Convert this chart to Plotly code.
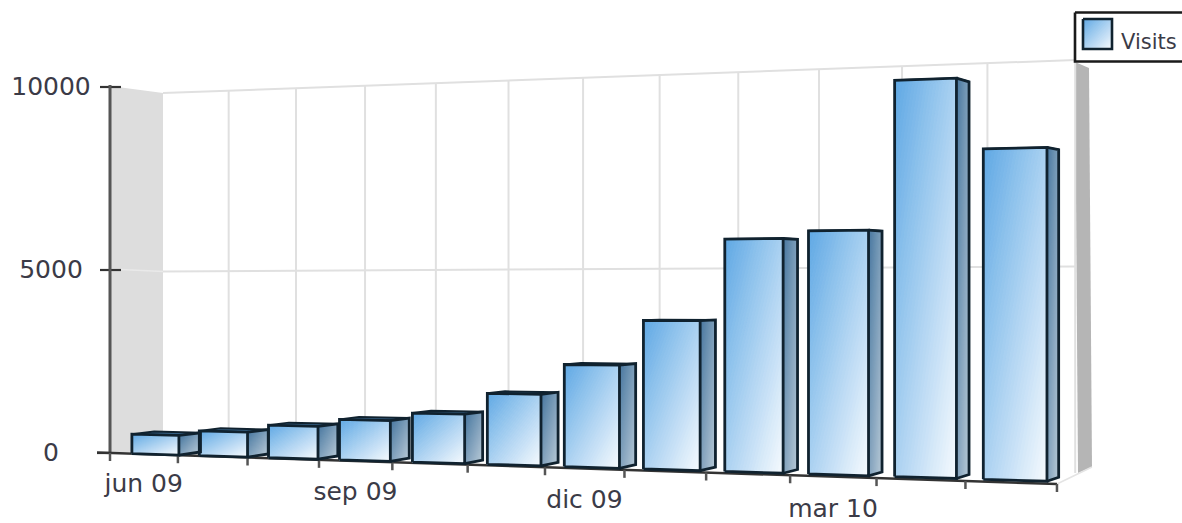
import plotly.graph_objects as go

# ---- data ----
months = ["jun 09", "jul 09", "ago 09", "sep 09", "oct 09", "nov 09",
          "dic 09", "ene 10", "feb 10", "mar 10", "abr 10", "may 10"]
visits = [530, 665, 865, 1060, 1265, 1810, 2570, 3690, 5690, 5870, 9430, 7750]
labelled_months = ["jun 09", "sep 09", "dic 09", "mar 10"]
y_ticks = [0, 5000, 10000]
series_name = "Visits"

W, H = 1182, 523
VMAX = 10000.0
N = 40
TEXT = "#3b3b47"
FONT = "DejaVu Sans"


# ---- perspective scales ----
def persp(t):
    return 1 - 0.01253 * t

def xf(t):
    return (110 + 65.67 * t) / persp(t)

def yf(x):
    return 453 + (x - 110) * 31 / 947

def front(t, v):
    x = xf(t) + 2 - t
    return x, yf(x) - 0.2 * t - v / VMAX * 366 / persp(t)

def depth(t, v):
    return 22.5 - 0.9 * t, -(3 + t / 12) + 8 * v / VMAX

def rear(t, v):
    x, y = front(t, v)
    dx, dy = depth(t, v)
    return x + dx, y + dy

def xb(t):
    return (163 + 62.9 * t) / (1 - 0.0122 * t)

def wall_y(x, v):
    top = 93 - 33 * (x - 163) / 912
    bot = 450 + 23 * (x - 163) / 912
    return bot - v / VMAX * (bot - top)


# ---- helpers ----
def hex2rgb(h):
    return [int(h[i:i + 2], 16) for i in (1, 3, 5)]

def mix(a, b, s):
    a, b = hex2rgb(a), hex2rgb(b)
    return "rgb(%d,%d,%d)" % tuple(round(p + (q - p) * s) for p, q in zip(a, b))

def band(a, b):
    """Diagonal slice a<=(u+v)/2<=b of the unit square."""
    def ends(c):
        if c <= 1:
            return (c, 0.0), (0.0, c)
        return (1.0, c - 1), (c - 1, 1.0)
    ca, cb = 2 * a, 2 * b
    a1, a2 = ends(ca)
    b1, b2 = ends(cb)
    pts = [a1]
    if ca < 1 < cb:
        pts.append((1.0, 0.0))
    pts += [b1, b2]
    if ca < 1 < cb:
        pts.append((0.0, 1.0))
    pts.append(a2)
    return pts

def add_path(xs, ys, pts):
    xs.extend(p[0] for p in pts)
    ys.extend(p[1] for p in pts)
    xs.append(None)
    ys.append(None)

def gradient_traces(mappers, c0, c1):
    out = []
    for k in range(N):
        xs, ys = [], []
        b = band(k / N, (k + 1) / N)
        for m in mappers:
            add_path(xs, ys, [m(u, v) for u, v in b] + [m(*b[0])])
        col = mix(c0, c1, (k + 0.5) / N)
        out.append(go.Scatter(x=xs, y=ys, mode="lines", fill="toself", fillcolor=col,
                              line=dict(color=col, width=1), hoverinfo="skip", showlegend=False))
    return out

def poly(pts, fill=None, line=None, width=0):
    xs = [p[0] for p in pts] + [pts[0][0]]
    ys = [p[1] for p in pts] + [pts[0][1]]
    return go.Scatter(x=xs, y=ys, mode="lines", fill="toself" if fill else "none",
                      fillcolor=fill, line=dict(color=line or "rgba(0,0,0,0)", width=width),
                      hoverinfo="skip", showlegend=False)

def seg(xs, ys, color, width):
    return go.Scatter(x=xs, y=ys, mode="lines", line=dict(color=color, width=width),
                      hoverinfo="skip", showlegend=False)


fig = go.Figure()
n = len(visits)

# ---- walls ----
GL = "#e0e0e0"
fig.add_trace(poly([(110, wall_y(163, VMAX) - 7), (163, wall_y(163, VMAX)),
                    (163, wall_y(163, 0)), (110, yf(110))], fill="#dddddd"))
fig.add_trace(poly([(1075, 62), (1089, 68), (1092, 467), (1078, 473)], fill="#b5b5b5"))
fig.add_trace(seg([xf(n), 1092], [yf(xf(n)), 467], "#e4e4e4", 1.5))

# back wall grid
for i in range(1, n + 1):
    x = xb(i)
    fig.add_trace(seg([x, x], [wall_y(x, VMAX), wall_y(x, 0)], GL, 2))
x0, x1 = xb(0), xb(n)
for v in y_ticks[1:]:
    fig.add_trace(seg([x0, x1], [wall_y(x0, v), wall_y(x1, v)], GL, 2))
fig.add_trace(seg([110, x0], [yf(110) - 184, wall_y(x0, 5000)], "#e9e9e9", 1.5))

# ---- axes ----
AX = "#333333"
for v in y_ticks:
    y = yf(110) - v / VMAX * 366
    fig.add_trace(seg([100 if v else 97, 121 if v else 110], [y, y], AX, 2.2))
fig.add_trace(seg([110, 110], [yf(110) - 368, yf(110)], "#555555", 3))
fig.add_trace(seg([97, xf(n)], [yf(97), yf(xf(n))], AX, 2.5))
for i in range(n + 1):
    x = xf(i)
    fig.add_trace(seg([x, x], [yf(x), yf(x) + 8], "#555555", 2.5))

# ---- bars ----
t_l = [i + 0.3 for i in range(n)]
t_r = [i + 1.0 for i in range(n)]
OUT = "#10222f"

# top faces
for i, val in enumerate(visits):
    fig.add_trace(poly([front(t_l[i], val), rear(t_l[i], val), rear(t_r[i], val), front(t_r[i], val)],
                       fill="#3f6f98", line=OUT, width=2))

def side_map(i, val):
    def m(u, v):
        x, y = front(t_r[i], val * (1 - v))
        dx, dy = depth(t_r[i], val * (1 - v))
        return x + u * dx, y + u * dy
    return m

def front_map(i, val):
    def m(u, v):
        return front(t_l[i] + u * (t_r[i] - t_l[i]), val * (1 - v))
    return m

for tr in gradient_traces([side_map(i, v) for i, v in enumerate(visits)], "#46769f", "#b6c8d6"):
    fig.add_trace(tr)
for tr in gradient_traces([front_map(i, v) for i, v in enumerate(visits)], "#5ea8e4", "#f6fafe"):
    fig.add_trace(tr)

ox, oy = [], []
for i, val in enumerate(visits):
    add_path(ox, oy, [front(t_l[i], 0), front(t_l[i], val), front(t_r[i], val), front(t_r[i], 0), front(t_l[i], 0)])
    add_path(ox, oy, [front(t_r[i], val), rear(t_r[i], val), rear(t_r[i], 0), front(t_r[i], 0)])
fig.add_trace(go.Scatter(x=ox, y=oy, mode="lines", line=dict(color=OUT, width=2.8),
                         hoverinfo="skip", showlegend=False))

# ---- tick labels ----
lab_x, lab_y, lab_t = [], [], []
for i, m in enumerate(months):
    if m in labelled_months:
        x = xf(i + 0.5)
        lab_x.append(x)
        lab_y.append(yf(x) + 32 + (x - 110) * 0.003)
        lab_t.append(m)
fig.add_trace(go.Scatter(x=lab_x, y=lab_y, text=lab_t, mode="text", textposition="middle center",
                         cliponaxis=False,
                         textfont=dict(family=FONT, size=25, color=TEXT), hoverinfo="skip", showlegend=False))
fig.add_trace(go.Scatter(x=[51] * len(y_ticks), y=[yf(110) - v / VMAX * 366 + 2 for v in y_ticks],
                         text=[str(v) for v in y_ticks], mode="text", textposition="middle center",
                         textfont=dict(family=FONT, size=25, color=TEXT), hoverinfo="skip", showlegend=False))

# ---- legend ----
fig.add_trace(poly([(1075, 12.5), (1190, 12.5), (1190, 61.5), (1075, 61.5)],
                   fill="white", line="#1a1a1a", width=2.6))
def swatch(u, v):
    return 1083 + 29 * u, 19 + 30 * v
for tr in gradient_traces([swatch], "#5ea8e4", "#f6fafe"):
    fig.add_trace(tr)
fig.add_trace(poly([(1083, 19), (1112, 19), (1112, 49), (1083, 49)], line=OUT, width=2.6))
fig.add_annotation(x=1121, y=42, text=series_name, showarrow=False,
                   xanchor="left", yanchor="middle", xshift=-2,
                   font=dict(family=FONT, size=21, color=TEXT))

axis = dict(visible=False, fixedrange=True)
fig.update_layout(
    width=W, height=H, margin=dict(l=0, r=0, t=0, b=0),
    paper_bgcolor="white", plot_bgcolor="white", showlegend=False,
    xaxis=dict(range=[0, W], **axis), yaxis=dict(range=[H, 0], **axis),
)
fig.write_html("out.html", config={"displayModeBar": False},
               post_script="document.body.style.margin='0';document.body.style.overflow='hidden';")
